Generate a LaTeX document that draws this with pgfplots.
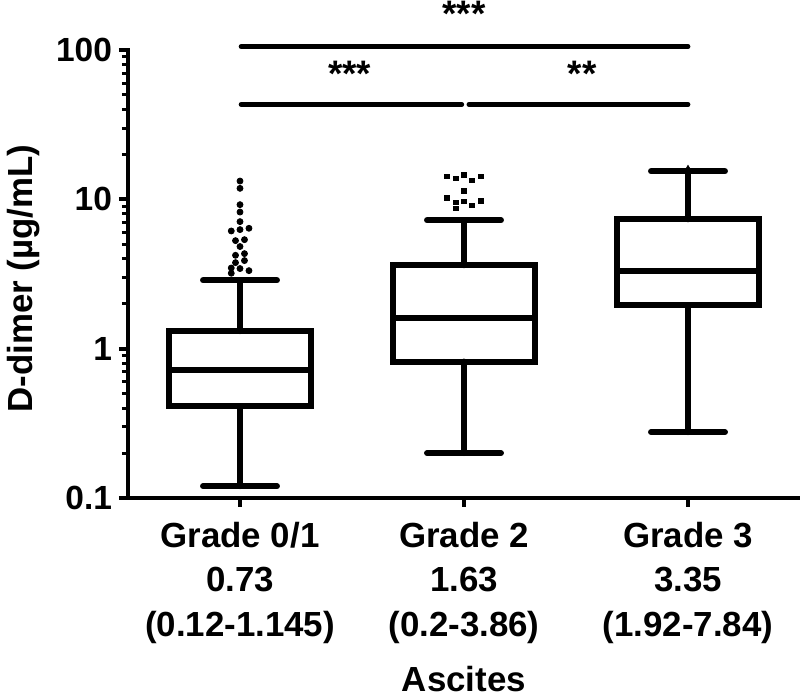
\documentclass[border=0pt]{standalone}
\usepackage{pgfplots}
\pgfplotsset{compat=1.18}
\usepgfplotslibrary{statistics}
\usepackage{fontspec}
\setmainfont{Liberation Sans}
\begin{document}
\begin{tikzpicture}[font=\bfseries\fontsize{17}{22}\selectfont]
\begin{axis}[
  scale only axis, width=336bp, height=224bp,
  ymode=log, ymin=0.1, ymax=100, xmin=0.5, xmax=3.5,
  axis x line*=bottom, axis y line*=left,
  axis line style={line width=2.3bp, line cap=rect},
  clip=false,
  ytick={0.1,1,10,100}, yticklabels={0.1,1,10,100},
  minor ytick={0.2,0.3,0.4,0.5,0.6,0.7,0.8,0.9,2,3,4,5,6,7,8,9,20,30,40,50,60,70,80,90},
  xtick={1,2,3},
  xticklabels={{Grade 0/1\\0.73\\(0.12-1.145)},{Grade 2\\1.63\\(0.2-3.86)},{Grade 3\\3.35\\(1.92-7.84)}},
  xticklabel style={align=center, font=\bfseries\fontsize{17.5}{22.3}\selectfont, yshift=-4bp},
  yticklabel style={font=\bfseries\fontsize{16.8}{22}\selectfont},
  tick align=outside,
  major tick length=4.5bp, minor tick length=3bp,
  every tick/.style={black, line width=2bp},
  every minor tick/.style={black, line width=1.5bp},
  ylabel={D-dimer (µg/mL)},
  ylabel style={at={(axis description cs:-0.155,0.49)}, anchor=center, font=\bfseries\fontsize{17.5}{20}\selectfont},
  xlabel={Ascites},
  xlabel style={at={(axis description cs:0.5,0)}, anchor=base, yshift=-96.5bp, font=\bfseries\fontsize{17.5}{20}\selectfont},
  boxplot/draw direction=y,
  boxplot/box extend=0.63,
  boxplot/whisker extend=0.33,
  boxplot/every box/.style={line width=3bp},
  boxplot/every whisker/.style={line width=3bp, line cap=round},
  boxplot/every median/.style={line width=3bp},
]
\coordinate (bl) at (rel axis cs:0,0);
\coordinate (tr) at (rel axis cs:1,1);
\addplot[black, boxplot prepared={draw position=1, lower whisker=0.12, lower quartile=0.41, median=0.72, upper quartile=1.31, upper whisker=2.87}] coordinates {};
\addplot[black, boxplot prepared={draw position=2, lower whisker=0.2, lower quartile=0.82, median=1.60, upper quartile=3.62, upper whisker=7.24}] coordinates {};
\addplot[black, boxplot prepared={draw position=3, lower whisker=0.276, lower quartile=1.96, median=3.32, upper quartile=7.35, upper whisker=15.4}] coordinates {};
% outliers Grade 0/1
\addplot[only marks, mark=*, mark size=1.5bp, black] coordinates {
(1,13.26) (1,11.85) (1,9.21) (1,8.22) (1,7.09) (0.961,6.14) (1,6.27) (1.04,6.40)
(0.98,5.29) (1.02,5.37) (1,4.83) (0.98,4.22) (1.02,4.33) (0.98,3.77) (1.02,3.89)
(0.961,3.47) (1,3.44) (1.04,3.33) (0.961,3.20)};
% outliers Grade 2
\addplot[only marks, mark=square*, mark size=1.2bp, black] coordinates {
(1.925,14.25) (1.963,13.8) (2.0,14.5) (2.037,13.4) (2.077,14.25) (2.0,11.4)
(1.925,10.2) (1.963,9.55) (1.963,8.7) (2.0,9.7) (2.037,9.1) (2.077,9.8)};
% outlier Grade 3 (hidden in cap)
\addplot[only marks, mark=triangle*, mark size=1.3bp, black] coordinates {(3,16.2)};
% significance bars
\addplot[black, line width=2.4bp, line cap=round] coordinates {(1.005,105.5) (3.0,105.5)};
\addplot[black, line width=2.4bp, line cap=round] coordinates {(1.005,43.2) (1.99,43.2)};
\addplot[black, line width=2.4bp, line cap=round] coordinates {(2.022,43.2) (3.0,43.2)};
\node[anchor=base, font=\bfseries\fontsize{18.5}{22}\selectfont] at (axis cs:2,144) {***};
\node[anchor=base, font=\bfseries\fontsize{18.5}{22}\selectfont] at (axis cs:1.49,57) {***};
\node[anchor=base, font=\bfseries\fontsize{18.5}{22}\selectfont] at (axis cs:2.527,57) {**};
\end{axis}
\pgfresetboundingbox
\path ([xshift=-64bp,yshift=-99bp]bl) rectangle ([yshift=25bp]tr);
\end{tikzpicture}
\end{document}
